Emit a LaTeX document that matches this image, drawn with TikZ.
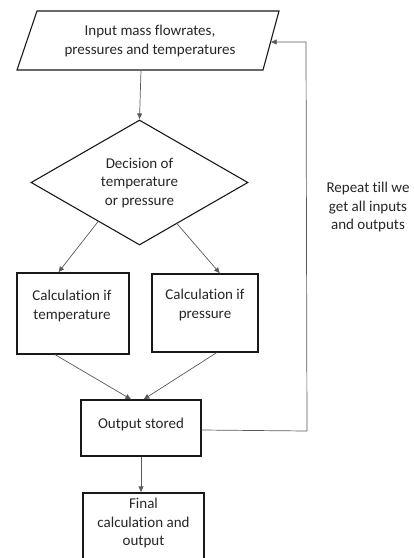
\documentclass[tikz,border=0pt]{standalone}
\usepackage{fontspec}
\setmainfont{Carlito}[Ligatures=NoCommon]
\usetikzlibrary{shapes.geometric,arrows.meta,calc}
\begin{document}
\begin{tikzpicture}[x=1pt,y=-1pt,
  lbl/.style={align=center,font=\fontsize{15}{18.5}\selectfont,text=black!85,inner sep=0pt},
  boxn/.style={draw=black!90,line width=1.1pt,rectangle,inner sep=0pt},
  conn/.style={draw=black!65,line width=0.7pt},
  arr/.style={conn,-{Latex[length=6pt,width=5.5pt]}}]
\useasboundingbox (0,0) rectangle (414,558);
% parallelogram
\coordinate (p1) at (37,11);
\coordinate (p2) at (279,11);
\coordinate (p3) at (263,70);
\coordinate (p4) at (17,70);
\draw[black!90,line width=1.1pt] (p1) -- (p2) -- (p3) -- (p4) -- cycle;
\node[lbl] (inp) at (150,41) {Input mass flowrates,\\pressures and temperatures};
\coordinate (inpb) at (141,70);
\coordinate (inpr) at (270.6,42);
% diamond
\node[draw=black!90,line width=1.1pt,diamond,aspect=1.736,minimum width=217pt,minimum height=125pt,inner sep=0pt] (dec) at (139.5,182.5) {};
\node[lbl] (dect) at (139.5,183) {Decision of\\temperature\\or pressure};
% boxes
\node[boxn,minimum width=112pt,minimum height=81pt] (lt) at (73,313.5) {};
\node[lbl,anchor=north] (ltt) at (72,290) {Calculation if\\temperature};
\node[boxn,minimum width=106pt,minimum height=78pt] (rt) at (205,313) {};
\node[lbl,anchor=north] (rtt) at (205,289) {Calculation if\\pressure};
\node[boxn,minimum width=120pt,minimum height=56pt] (out) at (141,428) {};
\node[lbl] (outt) at (141,424) {Output stored};
\node[boxn,minimum width=121pt,minimum height=70pt] (fin) at (143.5,528) {};
\node[lbl,anchor=north] (fint) at (143.5,498) {Final\\calculation and\\output};
\node[lbl] (rep) at (368,207) {Repeat till we\\get all inputs\\and outputs};
% connectors
\draw[arr] (inpb) -- (dec.north);
\draw[arr] ($(dec.west)!0.62!(dec.south)$) -- ($(lt.north west)!0.37!(lt.north east)$);
\draw[arr] ($(dec.east)!0.655!(dec.south)$) -- ($(rt.north west)!0.64!(rt.north east)$);
\draw[arr] ($(lt.south west)!0.34!(lt.south east)$) -- ($(out.north west)!0.42!(out.north east)$);
\draw[arr] ($(rt.south west)!0.61!(rt.south east)$) -- ($(out.north west)!0.52!(out.north east)$);
\draw[arr] (out.south) -- (out.south |- fin.north);
\coordinate (c1) at (307,431);
\coordinate (c2) at (306,42);
\draw[arr] (out.east |- 0,430) -- (c1) -- (c2) -- (inpr);
\end{tikzpicture}
\end{document}
